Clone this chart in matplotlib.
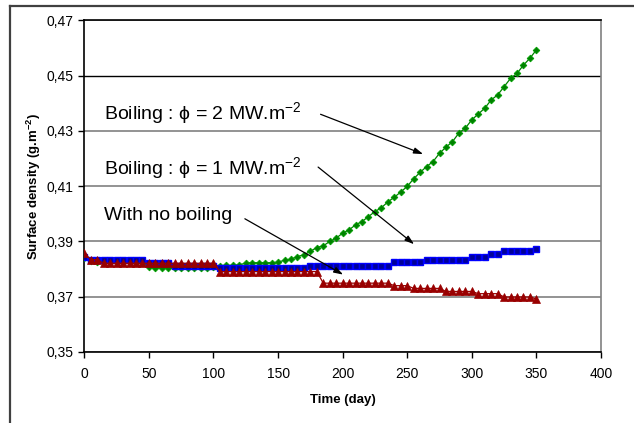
import matplotlib
matplotlib.use("Agg")
import matplotlib.pyplot as plt
from matplotlib.lines import Line2D

plt.rcParams['font.family'] = ['Liberation Sans', 'DejaVu Sans']
plt.rcParams['mathtext.fontset'] = 'custom'
plt.rcParams['mathtext.rm'] = 'Liberation Sans'
plt.rcParams['mathtext.it'] = 'Liberation Sans:italic'
plt.rcParams['mathtext.bf'] = 'Liberation Sans:bold'

# ---------------- data ----------------
days = [0, 5, 10, 15, 20, 25, 30, 35, 40, 45, 50, 55, 60, 65, 70, 75, 80, 85, 90, 95,
        100, 105, 110, 115, 120, 125, 130, 135, 140, 145, 150, 155, 160, 165, 170, 175,
        180, 185, 190, 195, 200, 205, 210, 215, 220, 225, 230, 235, 240, 245, 250, 255,
        260, 265, 270, 275, 280, 285, 290, 295, 300, 305, 310, 315, 320, 325, 330, 335,
        340, 345, 350]

boil_2mw = [0.3840, 0.3830, 0.3826, 0.3826, 0.3826, 0.3826, 0.3826, 0.3826, 0.3826, 0.3824,
            0.3806, 0.3804, 0.3804, 0.3804, 0.3804, 0.3804, 0.3804, 0.3804, 0.3804, 0.3804,
            0.3806, 0.3812, 0.3813, 0.3813, 0.3815, 0.3822, 0.3823, 0.3823, 0.3823, 0.3823,
            0.3825, 0.3832, 0.3836, 0.3845, 0.3852, 0.3864, 0.3878, 0.3884, 0.3900, 0.3912,
            0.3930, 0.3942, 0.3960, 0.3972, 0.3990, 0.4008, 0.4022, 0.4043, 0.4060, 0.4079,
            0.4099, 0.4127, 0.4150, 0.4171, 0.4189, 0.4219, 0.4241, 0.4261, 0.4292, 0.4310,
            0.4340, 0.4361, 0.4382, 0.4412, 0.4430, 0.4460, 0.4490, 0.4508, 0.4538, 0.4563,
            0.4593]

boil_1mw = [0.3842, 0.3833, 0.3833, 0.3833, 0.3833, 0.3833, 0.3833, 0.3833, 0.3833, 0.3833,
            0.3822, 0.3822, 0.3822, 0.3822, 0.3810, 0.3810, 0.3810, 0.3810, 0.3810, 0.3810,
            0.3810, 0.3803, 0.3803, 0.3803, 0.3803, 0.3803, 0.3803, 0.3803, 0.3803, 0.3803,
            0.3803, 0.3803, 0.3803, 0.3803, 0.3803, 0.3812, 0.3812, 0.3812, 0.3812, 0.3812,
            0.3812, 0.3812, 0.3812, 0.3812, 0.3812, 0.3812, 0.3812, 0.3812, 0.3824, 0.3824,
            0.3824, 0.3824, 0.3824, 0.3834, 0.3834, 0.3834, 0.3834, 0.3834, 0.3834, 0.3834,
            0.3843, 0.3843, 0.3843, 0.3854, 0.3854, 0.3864, 0.3864, 0.3864, 0.3864, 0.3864,
            0.3872]

no_boil = [0.3857, 0.3834, 0.3834, 0.3821, 0.3821, 0.3821, 0.3821, 0.3821, 0.3821, 0.3821,
           0.3821, 0.3821, 0.3821, 0.3821, 0.3821, 0.3821, 0.3821, 0.3821, 0.3821, 0.3821,
           0.3821, 0.3791, 0.3791, 0.3791, 0.3791, 0.3791, 0.3791, 0.3791, 0.3791, 0.3791,
           0.3791, 0.3791, 0.3791, 0.3791, 0.3791, 0.3791, 0.3791, 0.3749, 0.3749, 0.3749,
           0.3749, 0.3749, 0.3749, 0.3749, 0.3749, 0.3749, 0.3749, 0.3749, 0.3740, 0.3740,
           0.3740, 0.3730, 0.3730, 0.3730, 0.3730, 0.3730, 0.3719, 0.3719, 0.3719, 0.3719,
           0.3719, 0.3711, 0.3711, 0.3711, 0.3711, 0.3699, 0.3699, 0.3699, 0.3699, 0.3699,
           0.3692]

x_ticks = [0, 50, 100, 150, 200, 250, 300, 350, 400]
y_ticks = [0.35, 0.37, 0.39, 0.41, 0.43, 0.45, 0.47]
y_tick_labels = ["0,35", "0,37", "0,39", "0,41", "0,43", "0,45", "0,47"]

labels = ["Boiling : \u03d5 = 2 MW.m$^{-2}$",
          "Boiling : \u03d5 = 1 MW.m$^{-2}$",
          "With no boiling"]
# (text position, arrow tail, arrow head) in data coords
label_text_pos = [(15, 0.4365), (15, 0.4165), (15, 0.3995)]
arrow_tail = [(182.9, 0.4360), (181.0, 0.4169), (124.3, 0.3982)]
arrow_head = [(262.3, 0.4216), (255.3, 0.3890), (200.4, 0.3780)]

# ---------------- figure ----------------
fig = plt.figure(figsize=(6.34, 4.23), dpi=100)
ax = fig.add_axes([84.3 / 634, 1 - 352 / 423, (601 - 84.3) / 634, (352 - 20.3) / 423])

ax.plot(days, boil_2mw, color='#008000', lw=0.9, marker='D', ms=3.4,
        mfc='#008000', mec='#00a000', mew=0.6, zorder=3)
ax.plot(days, boil_1mw, color='#0000ff', lw=0.9, marker='s', ms=5.0,
        mfc='#000099', mec='#0000ff', mew=1.0, zorder=4)
ax.plot(days, no_boil, color='#990000', lw=0.9, marker='^', ms=5.4,
        mfc='#990000', mec='#990000', mew=0.5, zorder=5)

ax.set_xlim(0, 400)
ax.set_ylim(0.35, 0.47)
ax.set_xticks(x_ticks)
ax.set_xticklabels([str(v) for v in x_ticks])
ax.set_yticks(y_ticks)
ax.set_yticklabels(y_tick_labels)
ax.tick_params(axis='both', direction='out', length=4, width=1, labelsize=10,
               colors='black')
ax.tick_params(axis='y', pad=4)
ax.tick_params(axis='x', pad=7)

ax.grid(axis='y', color='#808080', lw=1.2, zorder=1)
ax.set_axisbelow(True)
gl = ax.get_ygridlines()
for i, v in enumerate(y_ticks):
    if abs(v - 0.45) < 1e-9:
        gl[i].set_color('black')
        gl[i].set_linewidth(1.0)

for s in ['left', 'bottom', 'top']:
    ax.spines[s].set_color('black')
    ax.spines[s].set_linewidth(1.2)
ax.spines['right'].set_color('#808080')
ax.spines['right'].set_linewidth(1.2)

ax.set_xlabel("Time (day)", fontsize=9.5, fontweight='bold', labelpad=9)
ax.set_ylabel("Surface density (g.m$^{\\mathbf{-2}}$)", fontsize=9.5,
              fontweight='bold', labelpad=2)

for lab, tp, t0, h in zip(labels, label_text_pos, arrow_tail, arrow_head):
    ax.text(tp[0], tp[1], lab, fontsize=14, va='center', ha='left', zorder=6)
    ax.annotate("", xy=h, xytext=t0,
                arrowprops=dict(arrowstyle='-|>,head_length=0.55,head_width=0.18',
                                color='black', lw=0.9, shrinkA=0, shrinkB=0),
                zorder=6)

# outer chart frame (left and top edges visible)
fig.add_artist(Line2D([10 / 634, 10 / 634], [0, 1 - 6 / 423], color='#404040', lw=1.6,
                      transform=fig.transFigure))
fig.add_artist(Line2D([10 / 634, 1], [1 - 6 / 423, 1 - 6 / 423], color='#404040', lw=1.6,
                      transform=fig.transFigure))

fig.savefig("out.png", dpi=100)
